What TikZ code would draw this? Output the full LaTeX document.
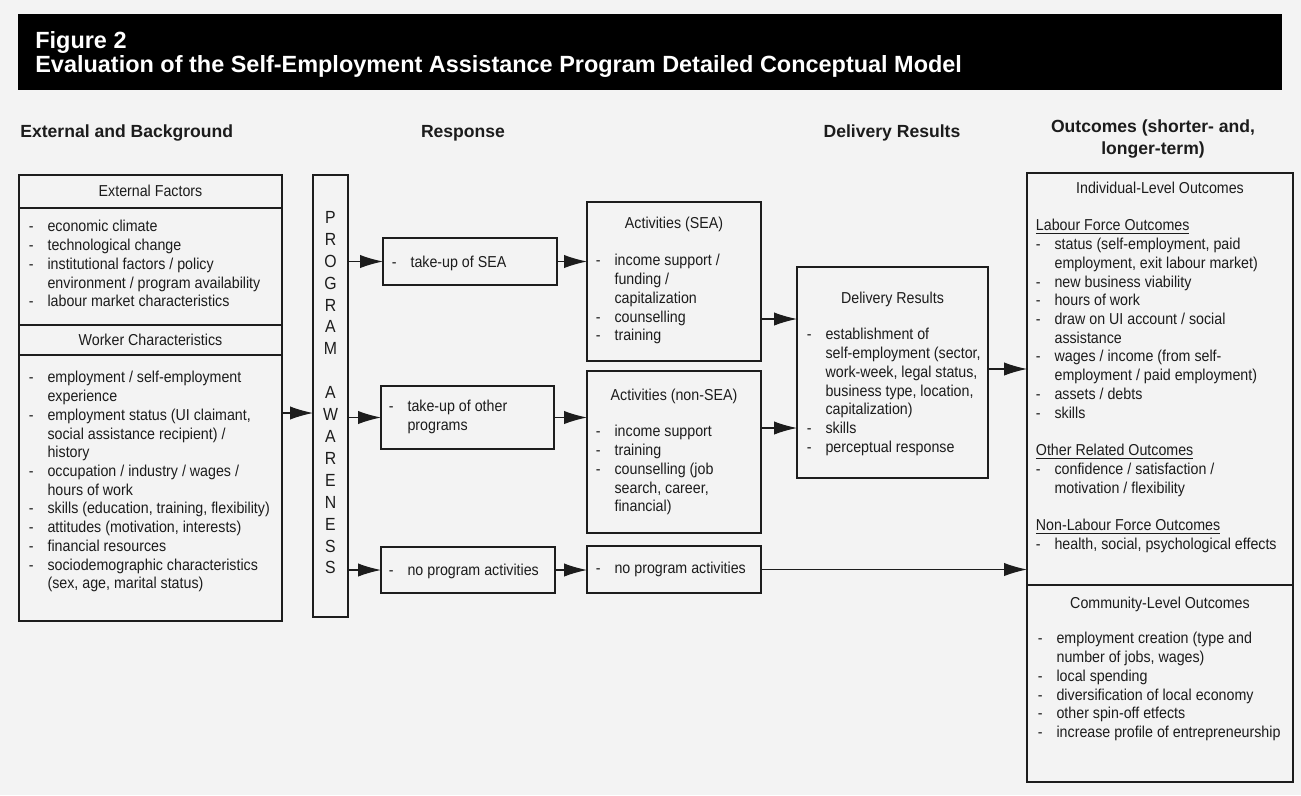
\documentclass[tikz,border=0pt]{standalone}
\usepackage{fontspec}
\setmainfont{Liberation Sans}[FakeStretch=0.9]
\newfontfamily\headfont{Liberation Sans}
\usetikzlibrary{arrows.meta, positioning}
\definecolor{ink}{HTML}{1C1C1C}
\definecolor{paper}{HTML}{F3F3F3}
\newcommand{\bodyfont}{\fontsize{9}{10.66}\selectfont}
\newcommand{\itm}{\makebox[10.6pt][l]{-}}
\newcommand{\ctd}{\hspace*{10.6pt}}

\begin{document}
\begin{tikzpicture}[x=0.02cm, y=-0.02cm,
    box/.style={draw=ink, line width=0.9pt, inner sep=0pt, outer sep=0pt},
    rule/.style={draw=ink, line width=0.7pt},
    txt/.style={anchor=north west, inner sep=0pt, align=left, text=ink,
                font=\bodyfont, execute at begin node=\strut},
    ttl/.style={anchor=base, inner sep=0pt, text=ink, font=\bodyfont},
    colhead/.style={inner sep=0pt, text=ink, font=\headfont\bfseries\fontsize{10}{13}\selectfont},
    arr/.style={draw=ink, line width=0.6pt, -{Latex[length=13pt, width=7.5pt]}}]

    \useasboundingbox[fill=paper] (0,0) rectangle (1301,795);

    % heading band
    \fill[black] (18,14) rectangle (1282,90);
    \node[anchor=base west, inner sep=0pt, text=white, font=\headfont\bfseries\fontsize{13.35}{16}\selectfont]
        (fig) at (35,48) {Figure 2};
    \node[anchor=base west, inner sep=0pt, text=white, font=\headfont\bfseries\fontsize{13.35}{16}\selectfont]
        (figtitle) at (35,72) {Evaluation of the Self-Employment Assistance Program Detailed Conceptual Model};

    % column headings
    \node[colhead, anchor=base west] (h1) at (20,137) {External and Background};
    \node[colhead, anchor=base] (h2) at (463,137) {Response};
    \node[colhead, anchor=base] (h3) at (892,137) {Delivery Results};
    \node[colhead, anchor=north, align=center, execute at begin node=\strut] (h4) at (1153,119)
        {Outcomes (shorter- and,\\longer-term)};

    % boxes
    \node[box, minimum width=5.26cm, minimum height=8.92cm] (ext) at (150.5,398) {};
    \node[box, minimum width=0.70cm, minimum height=8.84cm] (pa) at (330.5,396) {};
    \node[box, minimum width=3.48cm, minimum height=0.94cm] (sea) at (470,261.5) {};
    \node[box, minimum width=3.46cm, minimum height=1.26cm] (oth) at (467.5,417.5) {};
    \node[box, minimum width=3.48cm, minimum height=0.92cm] (nop) at (468,570) {};
    \node[box, minimum width=3.48cm, minimum height=3.18cm] (actsea) at (674,281.5) {};
    \node[box, minimum width=3.48cm, minimum height=3.24cm] (actnon) at (674,452) {};
    \node[box, minimum width=3.48cm, minimum height=0.94cm] (actnop) at (674,569.5) {};
    \node[box, minimum width=3.82cm, minimum height=4.22cm] (del) at (892.5,372.5) {};
    \node[box, minimum width=5.32cm, minimum height=12.18cm] (out) at (1160,477.5) {};

    % rules inside the boxes
    \coordinate (r1) at (0,208);
    \coordinate (r2) at (0,325);
    \coordinate (r3) at (0,355);
    \coordinate (r4) at (0,585);
    \foreach \r in {r1,r2,r3}
        \draw[rule] (ext.west |- \r) -- (ext.east |- \r);
    \draw[rule] (out.west |- r4) -- (out.east |- r4);

    % external and background
    \node[ttl] (extt) at (150.5,196) {External Factors};
    \node[txt] (extl) at (28.6,220) {\itm economic climate\\
        \itm technological change\\
        \itm institutional factors / policy\\
        \ctd environment / program availability\\
        \itm labour market characteristics};
    \node[ttl] (wrkt) at (150.5,345) {Worker Characteristics};
    \node[txt] (wrkl) at (28.6,371) {\itm employment / self-employment\\
        \ctd experience\\
        \itm employment status (UI claimant,\\
        \ctd social assistance recipient) /\\
        \ctd history\\
        \itm occupation / industry / wages /\\
        \ctd hours of work\\
        \itm skills (education, training, flexibility)\\
        \itm attitudes (motivation, interests)\\
        \itm financial resources\\
        \itm sociodemographic characteristics\\
        \ctd (sex, age, marital status)};

    % program awareness
    \node[anchor=north, inner sep=0pt, align=center, text=ink,
          font=\fontsize{10}{12.47}\selectfont, execute at begin node=\strut] (paw) at (330.5,211)
        {P\\R\\O\\G\\R\\A\\M\\[12.47pt]A\\W\\A\\R\\E\\N\\E\\S\\S};

    % response
    \node[txt] (seal) at (391.6,254) {\itm take-up of SEA};
    \node[txt] (othl) at (388.6,400) {\itm take-up of other\\\ctd programs};
    \node[txt] (nopl) at (388.6,562) {\itm no program activities};

    \node[ttl] (actseat) at (674,228) {Activities (SEA)};
    \node[txt] (actseal) at (595.6,254) {\itm income support /\\
        \ctd funding /\\
        \ctd capitalization\\
        \itm counselling\\
        \itm training};
    \node[ttl] (actnont) at (674,400) {Activities (non-SEA)};
    \node[txt] (actnonl) at (595.6,425) {\itm income support\\
        \itm training\\
        \itm counselling (job\\
        \ctd search, career,\\
        \ctd financial)};
    \node[txt] (actnopl) at (595.6,560) {\itm no program activities};

    % delivery results
    \node[ttl] (delt) at (892.5,303) {Delivery Results};
    \node[txt] (dell) at (806.6,328) {\itm establishment of\\
        \ctd self-employment (sector,\\
        \ctd work-week, legal status,\\
        \ctd business type, location,\\
        \ctd capitalization)\\
        \itm skills\\
        \itm perceptual response};

    % outcomes
    \node[ttl] (indt) at (1160,193) {Individual-Level Outcomes};
    \node[txt] (indl) at (1035.6,219) {\underline{Labour Force Outcomes}\\
        \itm status (self-employment, paid\\
        \ctd employment, exit labour market)\\
        \itm new business viability\\
        \itm hours of work\\
        \itm draw on UI account / social\\
        \ctd assistance\\
        \itm wages / income (from self-\\
        \ctd employment / paid employment)\\
        \itm assets / debts\\
        \itm skills\\[10.66pt]
        \underline{Other Related Outcomes}\\
        \itm confidence / satisfaction /\\
        \ctd motivation / flexibility\\[10.66pt]
        \underline{Non-Labour Force Outcomes}\\
        \itm health, social, psychological effects};
    \node[ttl] (comt) at (1160,608) {Community-Level Outcomes};
    \node[txt] (coml) at (1037.6,632) {\itm employment creation (type and\\
        \ctd number of jobs, wages)\\
        \itm local spending\\
        \itm diversification of local economy\\
        \itm other spin-off etfects\\
        \itm increase profile of entrepreneurship};

    % arrows
    \coordinate (a0) at (0,413);
    \coordinate (a1) at (0,319);
    \coordinate (a2) at (0,428);
    \coordinate (a3) at (0,369);
    \draw[arr] (ext.east |- a0) -- (pa.west |- a0);
    \foreach \b in {sea,oth,nop}
        \draw[arr] (pa.east |- \b.west) -- (\b.west);
    \draw[arr] (sea.east) -- (sea.east -| actsea.west);
    \draw[arr] (oth.east) -- (oth.east -| actnon.west);
    \draw[arr] (nop.east) -- (nop.east -| actnop.west);
    \draw[arr] (actsea.east |- a1) -- (del.west |- a1);
    \draw[arr] (actnon.east |- a2) -- (del.west |- a2);
    \draw[arr] (del.east |- a3) -- (out.west |- a3);
    \draw[arr] (actnop.east) -- (actnop.east -| out.west);
\end{tikzpicture}
\end{document}
